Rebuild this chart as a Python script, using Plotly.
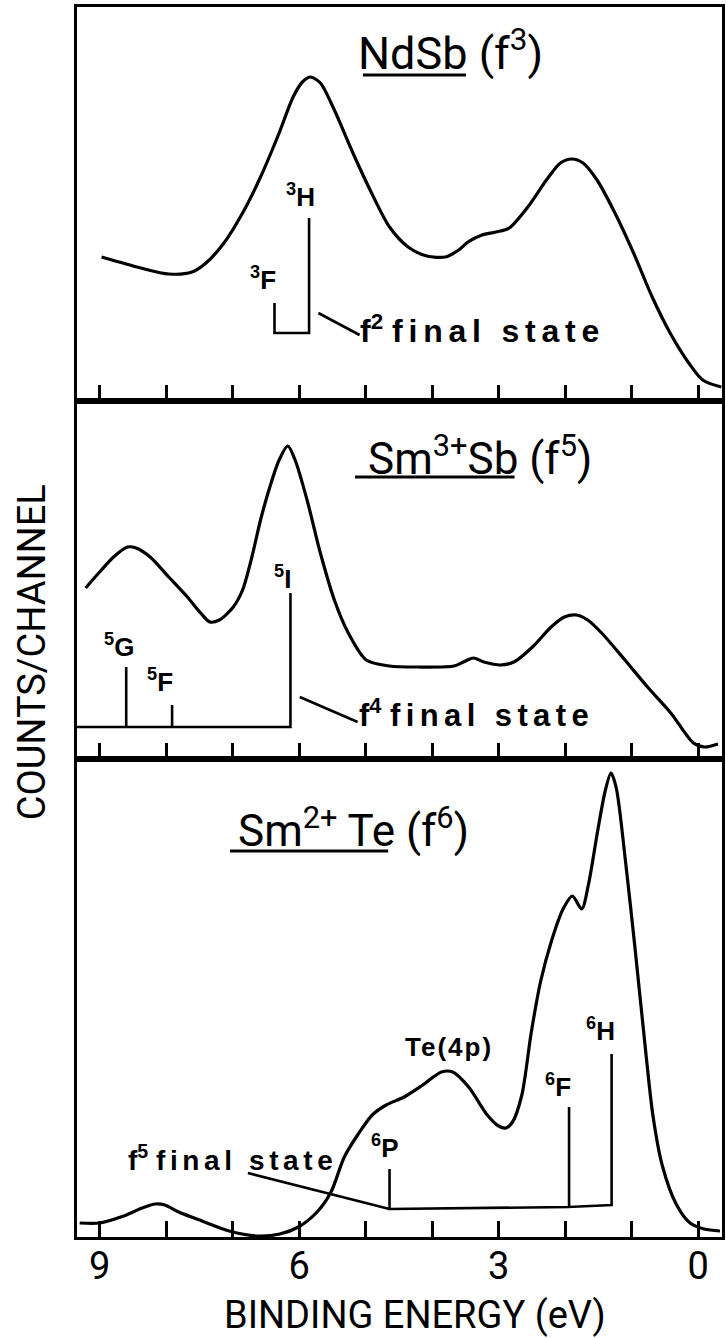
import plotly.graph_objects as go

# ---------------- data (binding energy in eV, counts in arbitrary units) ----------------
nd_energy = [8.97, 8.38, 7.96, 7.61, 7.40, 7.13, 6.85, 6.58, 6.30, 6.09, 5.95, 5.83, 5.68, 5.47,
             5.19, 4.91, 4.64, 4.36, 4.08, 3.80, 3.60, 3.46, 3.25, 3.04, 2.84, 2.56, 2.28, 2.07,
             1.90, 1.73, 1.52, 1.25, 0.97, 0.69, 0.42, 0.14, -0.07, -0.35]
nd_counts = [144, 133, 127, 129, 138, 158, 188, 224, 268, 304, 319, 324, 318, 291,
             248, 208, 174, 154, 145, 144, 151, 159, 166, 169, 173, 194, 221, 238,
             242, 238, 221, 188, 148, 104, 68, 38, 21, 14]

sm3_energy = [9.21, 9.00, 8.79, 8.58, 8.45, 8.24, 7.96, 7.68, 7.48, 7.34, 7.20, 6.99, 6.85, 6.71,
              6.58, 6.44, 6.30, 6.17, 6.06, 5.88, 5.68, 5.47, 5.26, 4.99, 4.64, 4.22, 3.67, 3.53,
              3.38, 3.22, 2.97, 2.77, 2.49, 2.21, 2.01, 1.83, 1.66, 1.45, 1.10, 0.76, 0.41, 0.07,
              -0.10, -0.30]
sm3_counts = [171, 187, 202, 212, 211, 202, 182, 162, 146, 137, 139, 152, 169, 202,
              239, 272, 299, 313, 299, 259, 206, 159, 126, 99, 93, 92, 93, 97,
              101, 97, 94, 97, 112, 132, 142, 144, 139, 126, 99, 72, 46, 16,
              12, 15]

sm2_energy = [9.30, 9.00, 8.64, 8.36, 8.16, 8.02, 7.81, 7.46, 7.05, 6.63, 6.29, 6.01, 5.73, 5.52,
              5.32, 5.11, 4.90, 4.69, 4.42, 4.14, 3.86, 3.69, 3.45, 3.17, 3.00, 2.89, 2.79, 2.65,
              2.51, 2.37, 2.20, 2.03, 1.89, 1.75, 1.65, 1.51, 1.40, 1.31, 1.23, 1.09, 0.95, 0.81,
              0.68, 0.54, 0.33, 0.12, -0.09, -0.33]
sm2_counts = [14, 14, 21, 29, 33, 32, 25, 16, 6, 1, 3, 10, 25, 45,
              80, 103, 122, 132, 140, 152, 165, 165, 150, 122, 111, 109, 115, 142,
              204, 255, 297, 328, 341, 328, 352, 406, 445, 464, 449, 375, 290, 200,
              122, 72, 33, 14, 8, 6]

# final-state multiplet markers
nd_term_energy = [6.37, 5.85]
nd_term_height = [98, 183]
nd_term_base = [68, 68]
nd_term_labels = ["<sup>3</sup>F", "<sup>3</sup>H"]
nd_label_pos = [(6.54, 123), (5.98, 206)]

sm3_term_energy = [8.60, 7.91, 6.13]
sm3_term_height = [92, 54, 166]
sm3_term_base = [32, 32, 32]
sm3_term_labels = ["<sup>5</sup>G", "<sup>5</sup>F", "<sup>5</sup>I"]
sm3_label_pos = [(8.71, 114), (8.09, 79), (6.25, 182)]
sm3_base_start = 9.34

sm2_term_energy = [4.64, 1.94, 1.30]
sm2_term_height = [68, 130, 183]
sm2_term_base = [28, 30, 32]
sm2_term_labels = ["<sup>6</sup>P", "<sup>6</sup>F", "<sup>6</sup>H"]
sm2_label_pos = [(4.71, 91), (2.10, 152), (1.46, 208)]

tick_vals = [0, 1, 2, 3, 4, 5, 6, 7, 8, 9]
tick_text = ["0", "", "", "3", "", "", "6", "", "", "9"]

# ---------------- layout geometry ----------------
W, H = 726, 1338
ML, MR, MT, MB = 77, 1, 7, 101
PH = H - MT - MB
PW = W - ML - MR
panel_px = [478, 358, 394]  # bottom, middle, top
y_rng = [[0, 478], [0, 358], [0, 394]]
d0 = panel_px[0] / PH
d1 = (panel_px[0] + panel_px[1]) / PH
domains = [[0, d0], [d0, d1], [d1, 1]]
XR = [9.34, -0.36]

NARROW = "Roboto, Liberation Sans, Arial, sans-serif"
LABEL = "Liberation Sans, Arial, Helvetica, sans-serif"
LW = 3.2

fig = go.Figure()

def curve(x, y, ax):
    fig.add_trace(go.Scatter(x=x, y=y, mode="lines", xaxis=ax[0], yaxis=ax[1],
                             line=dict(color="black", width=LW, shape="spline", smoothing=0.8),
                             hoverinfo="skip", showlegend=False))

def seg(x, y, ax, w=2.6):
    fig.add_trace(go.Scatter(x=x, y=y, mode="lines", xaxis=ax[0], yaxis=ax[1],
                             line=dict(color="black", width=w),
                             hoverinfo="skip", showlegend=False))

def terms(energy, height, base, ax, start=None):
    xs, ys = [], []
    if start is not None:
        xs.append(start); ys.append(base[0])
    n = len(energy)
    for i, (e, h, b) in enumerate(zip(energy, height, base)):
        if i == 0 and start is None:
            xs += [e, e]; ys += [h, b]
        elif i == n - 1:
            xs += [e, e]; ys += [b, h]
        else:
            xs += [e, e, e]; ys += [b, h, b]
    seg(xs, ys, ax)

axes = [("x", "y"), ("x2", "y2"), ("x3", "y3")]

curve(sm2_energy, sm2_counts, axes[0])
curve(sm3_energy, sm3_counts, axes[1])
curve(nd_energy, nd_counts, axes[2])

terms(sm2_term_energy, sm2_term_height, sm2_term_base, axes[0])
terms(sm3_term_energy, sm3_term_height, sm3_term_base, axes[1], start=sm3_base_start)
terms(nd_term_energy, nd_term_height, nd_term_base, axes[2])

# leader lines
seg([5.71, 5.09], [88, 66], axes[2])
seg([5.99, 5.12], [62, 37], axes[1])
seg([6.77, 4.64], [64, 28], axes[0])

# title underlines
seg([5.04, 3.49], [326, 326], axes[2], w=3)
seg([5.16, 2.76], [282, 282], axes[1], w=3)
seg([7.04, 4.66], [386, 386], axes[0], w=3)

ann = []
def label(text, x, y, ax, size=26, anchor="center", font=LABEL, weight="bold"):
    ann.append(dict(text=text, x=x, y=y, xref=ax[0], yref=ax[1], showarrow=False,
                    xanchor=anchor, yanchor="middle",
                    font=dict(family=font, size=size, color="black", weight=weight)))

for t, (x, y) in zip(nd_term_labels, nd_label_pos):
    label(t, x, y, axes[2])
for t, (x, y) in zip(sm3_term_labels, sm3_label_pos):
    label(t, x, y, axes[1])
for t, (x, y) in zip(sm2_term_labels, sm2_label_pos):
    label(t, x, y, axes[0])

def spaced(s, px):
    return f'<span style="letter-spacing:{px}px">{s}</span>'

label("f<sup>2</sup> " + spaced("final state", 5.8), 5.12, 72, axes[2], size=32, anchor="left")
label("f<sup>4</sup> " + spaced("final state", 5.4), 5.13, 46, axes[1], size=31, anchor="left")
label("f<sup>5</sup> " + spaced("final state", 4.6), 8.60, 79, axes[0], size=28, anchor="left")
label(spaced("Te(4p)", 2), 3.74, 190, axes[0], size=26)

label("NdSb (f<sup>3</sup>)", 3.73, 351, axes[2], size=45, font=NARROW, weight="normal")
label("Sm<sup>3+</sup>Sb (f<sup>5</sup>)", 3.28, 303, axes[1], size=44, font=NARROW, weight="normal")
label("Sm<sup>2+</sup> Te (f<sup>6</sup>)", 5.18, 409, axes[0], size=44, font=NARROW, weight="normal")

ann.append(dict(text="COUNTS/CHANNEL", x=(32 - ML) / PW, y=(H - MB - 652) / PH,
                xref="paper", yref="paper", showarrow=False, textangle=-90,
                xanchor="center", yanchor="middle",
                font=dict(family=NARROW, size=38, color="black")))
ann.append(dict(text="BINDING ENERGY (eV)", x=(417 - ML) / PW, y=(H - MB - 1315) / PH,
                xref="paper", yref="paper", showarrow=False,
                xanchor="center", yanchor="middle",
                font=dict(family=NARROW, size=38, color="black")))

layout = dict(width=W, height=H, margin=dict(l=ML, r=MR, t=MT, b=MB),
              paper_bgcolor="white", plot_bgcolor="white", showlegend=False,
              annotations=ann)

for i, (xa, ya) in enumerate(axes):
    xk = "xaxis" if i == 0 else f"xaxis{i+1}"
    yk = "yaxis" if i == 0 else f"yaxis{i+1}"
    layout[xk] = dict(range=XR, anchor=ya, tickvals=tick_vals, ticktext=tick_text,
                      ticks="inside", ticklen=16, tickwidth=2.6, tickcolor="black",
                      showticklabels=(i == 0), showline=True, linewidth=LW, linecolor="black",
                      mirror=True, showgrid=False, zeroline=False,
                      tickfont=dict(family=NARROW, size=38, color="black"),
                      **({"ticklabelstandoff": -7} if i == 0 else {"matches": "x"}))
    layout[yk] = dict(domain=domains[i], range=y_rng[i], anchor=xa, showline=True,
                      linewidth=LW, linecolor="black", mirror=True, ticks="",
                      showticklabels=False, showgrid=False, zeroline=False)

fig.update_layout(**layout)
fig.write_html("out.html")
